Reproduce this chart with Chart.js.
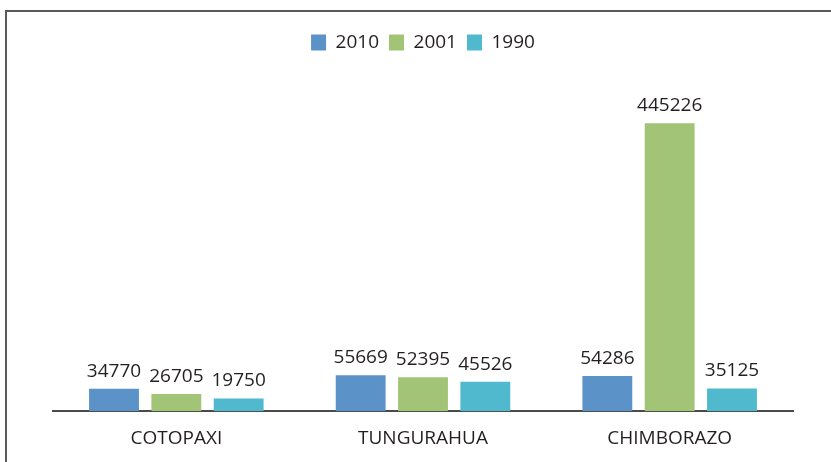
<!DOCTYPE html>
<html>
<head>
<meta charset="utf-8">
<script src="https://cdn.jsdelivr.net/npm/chart.js@4.4.0/dist/chart.umd.min.js"></script>
<style>
  html, body { margin: 0; padding: 0; background: #fff; }
  #wrap { position: relative; width: 831px; height: 462px; }
  #frame {
    position: absolute; left: 5px; top: 10px; right: 0; bottom: 0;
    border-top: 2px solid #5a5a5a; border-left: 2px solid #5a5a5a;
  }
  canvas { position: absolute; left: 0; top: 0; }
</style>
</head>
<body>
<div id="wrap">
  <div id="frame"></div>
  <canvas id="chart" width="831" height="462"></canvas>
</div>
<script>
// Data
const provinces = ['COTOPAXI', 'TUNGURAHUA', 'CHIMBORAZO'];
const years = ['2010', '2001', '1990'];
const values2010 = [34770, 55669, 54286];
const values2001 = [26705, 52395, 445226];
const values1990 = [19750, 45526, 35125];
const yearColors = ['#5b93c8', '#a2c476', '#50b9ce'];
const yMax = 540000;

const textColor = '#231f20';
const fontFamily = "'Open Sans', 'DejaVu Sans', sans-serif";

// value labels above each bar
const barLabels = {
  id: 'barLabels',
  afterDatasetsDraw(chart) {
    const ctx = chart.ctx;
    ctx.save();
    ctx.fillStyle = textColor;
    ctx.font = '19px ' + fontFamily;
    ctx.textAlign = 'center';
    ctx.textBaseline = 'alphabetic';
    chart.data.datasets.forEach((ds, i) => {
      chart.getDatasetMeta(i).data.forEach((bar, j) => {
        ctx.fillText(String(ds.data[j]), bar.x, bar.y - 12);
      });
    });
    ctx.restore();
  }
};

new Chart(document.getElementById('chart'), {
  type: 'bar',
  data: {
    labels: provinces,
    datasets: [
      { label: years[0], data: values2010, backgroundColor: yearColors[0] },
      { label: years[1], data: values2001, backgroundColor: yearColors[1] },
      { label: years[2], data: values1990, backgroundColor: yearColors[2] }
    ]
  },
  options: {
    responsive: false,
    animation: false,
    categoryPercentage: 0.758,
    barPercentage: 0.8,
    layout: { padding: { left: 53, right: 38, top: 23, bottom: -4 } },
    plugins: {
      legend: {
        position: 'top',
        labels: {
          boxWidth: 15,
          boxHeight: 16,
          padding: 10,
          color: textColor,
          font: { size: 19, family: fontFamily }
        }
      },
      tooltip: { enabled: false }
    },
    scales: {
      x: {
        grid: { display: false, drawTicks: false },
        border: { display: true, color: '#4a4a4a', width: 2 },
        ticks: { color: textColor, padding: 16, font: { size: 19, family: fontFamily } }
      },
      y: {
        display: false,
        min: 0,
        max: yMax
      }
    }
  },
  plugins: [barLabels]
});
</script>
</body>
</html>
